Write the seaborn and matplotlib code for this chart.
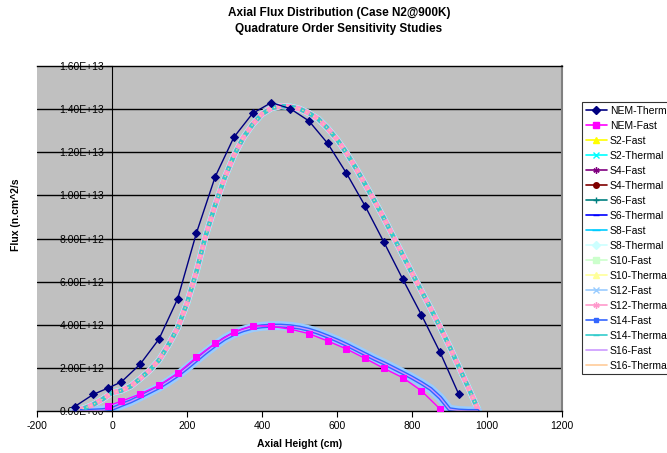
import matplotlib
matplotlib.use("Agg")
import matplotlib.pyplot as plt
from matplotlib.lines import Line2D
import seaborn as sns

# Axial heights (cm) and flux values (units of 1e12 n/cm^2/s)
nem_thermal_x = [-100, -50, -10, 25, 75, 125, 175, 225, 275, 325, 375, 425,
                 475, 525, 575, 625, 675, 725, 775, 825, 875, 925]
nem_thermal_y = [0.20, 0.77, 1.07, 1.35, 2.17, 3.33, 5.20, 8.25, 10.86, 12.70,
                 13.81, 14.31, 14.03, 13.46, 12.42, 11.04, 9.51, 7.84, 6.13,
                 4.47, 2.72, 0.77]

nem_fast_x = [-10, 25, 75, 125, 175, 225, 275, 325, 375, 425, 475, 525, 575,
              625, 675, 725, 775, 825, 875]
nem_fast_y = [0.25, 0.45, 0.79, 1.19, 1.75, 2.49, 3.14, 3.67, 3.96, 3.93, 3.80,
              3.59, 3.25, 2.88, 2.44, 1.98, 1.55, 0.94, 0.09]

sn_height = [-100, -75, -50, -25, 0, 25, 50, 75, 100, 125, 150, 175, 200, 225,
             250, 275, 300, 325, 350, 375, 400, 425, 450, 475, 500, 525, 550,
             575, 600, 625, 650, 675, 700, 725, 750, 775, 800, 825, 850, 875,
             900, 925, 950, 975]
sn_thermal = [0.00, 0.12, 0.30, 0.55, 0.85, 0.95, 1.15, 1.50, 1.88, 2.35, 3.05,
              3.85, 5.00, 6.45, 8.15, 9.55, 10.80, 11.85, 12.68, 13.30, 13.78,
              14.05, 14.15, 14.12, 14.02, 13.82, 13.55, 13.12, 12.60, 11.98,
              11.28, 10.52, 9.75, 8.95, 8.10, 7.25, 6.40, 5.58, 4.75, 3.90,
              3.00, 2.05, 1.10, 0.12]
sn_fast = [0.00, 0.00, 0.02, 0.04, 0.10, 0.28, 0.45, 0.66, 0.88, 1.10, 1.37,
           1.66, 2.00, 2.36, 2.72, 3.05, 3.35, 3.58, 3.75, 3.87, 3.93, 3.96,
           3.96, 3.93, 3.87, 3.77, 3.63, 3.46, 3.28, 3.08, 2.86, 2.64, 2.42,
           2.22, 2.00, 1.78, 1.55, 1.30, 1.02, 0.62, 0.08, 0.02, 0.00, 0.00]

series_names = ["NEM-Thermal", "NEM-Fast", "S2-Fast", "S2-Thermal", "S4-Fast",
                "S4-Thermal", "S6-Fast", "S6-Thermal", "S8-Fast", "S8-Thermal",
                "S10-Fast", "S10-Thermal", "S12-Fast", "S12-Thermal",
                "S14-Fast", "S14-Thermal", "S16-Fast", "S16-Thermal"]

y_ticks = [0, 2e12, 4e12, 6e12, 8e12, 1e13, 1.2e13, 1.4e13, 1.6e13]
y_tick_labels = ["0.00E+00", "2.00E+12", "4.00E+12", "6.00E+12", "8.00E+12",
                 "1.00E+13", "1.20E+13", "1.40E+13", "1.60E+13"]
x_ticks = [-200, 0, 200, 400, 600, 800, 1000, 1200]

# colour, marker, marker size
styles = {
    "NEM-Thermal": ("#000080", "D", 4.0),
    "NEM-Fast": ("#FF00FF", "s", 4.0),
    "S2-Fast": ("#FFFF00", "^", 4.0),
    "S2-Thermal": ("#00FFFF", "x", 4.0),
    "S4-Fast": ("#800080", (6, 2, 0), 4.5),
    "S4-Thermal": ("#800000", "o", 4.0),
    "S6-Fast": ("#008080", "+", 5.0),
    "S6-Thermal": ("#0000FF", "_", 4.0),
    "S8-Fast": ("#00CCFF", "_", 6.0),
    "S8-Thermal": ("#CCFFFF", "D", 4.0),
    "S10-Fast": ("#CCFFCC", "s", 4.0),
    "S10-Thermal": ("#FFFF99", "^", 4.0),
    "S12-Fast": ("#99CCFF", "x", 4.0),
    "S12-Thermal": ("#FF99CC", (6, 2, 0), 4.5),
    "S14-Fast": ("#3366FF", "s", 3.0),
    "S14-Thermal": ("#33CCCC", "_", 5.0),
    "S16-Fast": ("#CC99FF", "", 0),
    "S16-Thermal": ("#FFCC99", "", 0),
}

# line width and dash pattern of the densely marked S_N curves
band_style = {
    "S2-Fast": (1.0, None), "S2-Thermal": (4.6, None),
    "S4-Fast": (1.0, None), "S4-Thermal": (1.0, None),
    "S6-Fast": (1.0, None), "S6-Thermal": (1.0, None),
    "S8-Fast": (1.0, None), "S8-Thermal": (4.6, None),
    "S10-Fast": (1.0, None), "S10-Thermal": (1.0, None),
    "S12-Fast": (6.5, None), "S12-Thermal": (4.0, None),
    "S14-Fast": (3.0, None), "S14-Thermal": (3.2, (1.0, 1.2)),
    "S16-Fast": (1.0, None), "S16-Thermal": (1.0, (1.0, 2.0)),
}

sns.set_theme(style="white")
plt.rcParams["font.family"] = ["Liberation Sans", "DejaVu Sans"]
plt.rcParams["text.color"] = "black"
plt.rcParams["xtick.color"] = "black"
plt.rcParams["ytick.color"] = "black"
plt.rcParams["axes.labelcolor"] = "black"

fig = plt.figure(figsize=(6.67, 4.53), dpi=100)
ax = fig.add_axes([0.0555, 0.0927, 0.787, 0.7613])
ax.set_facecolor("#C0C0C0")
ax.spines["left"].set_position(("data", 0))

for name in series_names:
    color, marker, ms = styles[name]
    if name == "NEM-Thermal":
        xs, ys = nem_thermal_x, nem_thermal_y
    elif name == "NEM-Fast":
        xs, ys = nem_fast_x, nem_fast_y
    elif name.endswith("Thermal"):
        xs, ys = sn_height, sn_thermal
    else:
        xs, ys = sn_height, sn_fast
    yv = [v * 1e12 for v in ys]
    if name.startswith("NEM"):
        sns.lineplot(x=xs, y=yv, ax=ax, color=color, marker=marker,
                     markersize=ms, markeredgecolor=color,
                     markerfacecolor=color, linewidth=1.0,
                     estimator=None, sort=False, zorder=3)
    else:
        lw, dash = band_style[name]
        line_ax = sns.lineplot(x=xs, y=yv, ax=ax, color=color, linewidth=lw,
                               estimator=None, sort=False, zorder=2)
        if dash is not None:
            line_ax.lines[-1].set_dashes(dash)

ax.set_xlim(-200, 1200)
ax.set_ylim(0, 1.6e13)
ax.set_xticks(x_ticks)
ax.set_xticklabels([str(t) for t in x_ticks])
ax.set_yticks(y_ticks)
ax.set_yticklabels(y_tick_labels)
ax.tick_params(axis="both", direction="out", length=4, width=0.8,
               color="black", labelcolor="black", pad=1.5, left=True,
               bottom=True, labelsize=7.5)
ax.tick_params(axis="x", pad=3)

for yv in y_ticks[1:-1]:
    ax.axhline(yv, color="black", linewidth=1.0, zorder=0.5)

ax.spines["left"].set_color("black")
ax.spines["left"].set_linewidth(0.8)
ax.spines["bottom"].set_color("black")
ax.spines["bottom"].set_linewidth(1.0)
ax.spines["top"].set_color("black")
ax.spines["top"].set_linewidth(1.0)
ax.spines["right"].set_color("#808080")
ax.spines["right"].set_linewidth(1.5)

ax.set_xlabel("Axial Height (cm)", fontsize=7.5, fontweight="bold", labelpad=6)
ax.set_ylabel("")
fig.text(0.024, 0.525, "Flux (n.cm^2/s", rotation=90, fontsize=7.5,
         fontweight="bold", ha="center", va="center")

fig.text(0.508, 0.971, "Axial Flux Distribution (Case N2@900K)", ha="center",
         va="center", fontsize=8.5, fontweight="bold")
fig.text(0.508, 0.936, "Quadrature Order Sensitivity Studies", ha="center",
         va="center", fontsize=8.5, fontweight="bold")

handles = []
for name in series_names:
    color, marker, ms = styles[name]
    handles.append(Line2D([], [], color=color, linewidth=1.2,
                          marker=marker if marker else None, markersize=ms,
                          markeredgecolor=color, markerfacecolor=color))
leg = ax.legend(handles, series_names, loc="upper left",
                bbox_to_anchor=(0.873, 0.775), bbox_transform=fig.transFigure,
                fontsize=7.5, frameon=True, fancybox=False, edgecolor="black",
                handlelength=2.0, handletextpad=0.3, labelspacing=0.48,
                borderpad=0.35, borderaxespad=0)
leg.get_frame().set_linewidth(0.8)
leg.get_frame().set_facecolor("white")

fig.savefig("out.png", dpi=100, facecolor="white")
